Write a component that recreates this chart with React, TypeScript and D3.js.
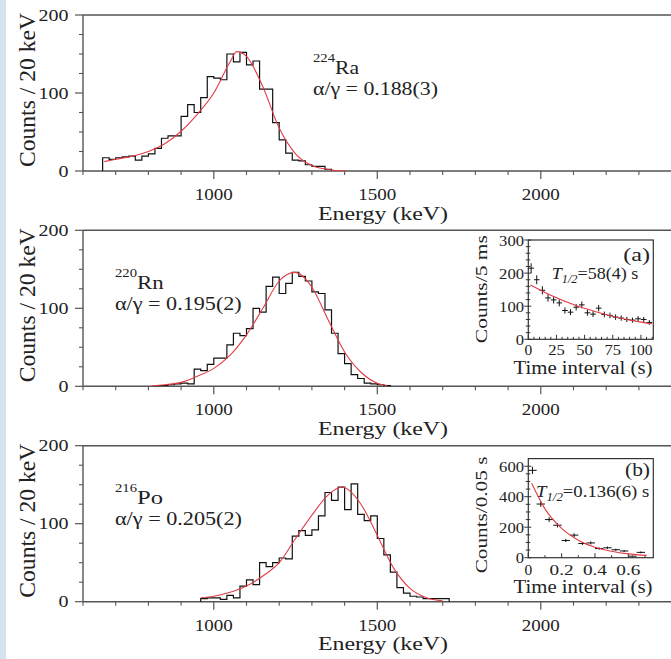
import React from "react";
import * as d3 from "d3";

const W = 671;
const H = 659;
const FONT = "Liberation Serif, Tinos, Times New Roman, Times, serif";
const RED = "#e23c44";
const AXIS = "#555";
const INK = "#222";

// ---------- main spectra (20 keV bins) ----------
const binWidthKeV = 20;
const raStartKeV = 660;
const raCounts = [17, 15, 17, 18, 19, 14, 19, 22, 29, 42, 45, 45, 70, 85, 75, 94, 121, 119, 117, 150, 140, 152, 136, 141, 105, 105, 62, 40, 23, 14, 13, 8, 6, 6, 2];
const rnStartKeV = 820;
const rnCounts = [1, 1, 2, 3, 4, 3, 22, 20, 28, 36, 36, 53, 68, 65, 74, 100, 95, 128, 140, 119, 132, 146, 141, 135, 121, 119, 98, 68, 42, 29, 15, 10, 4, 3, 2, 1];
const poStartKeV = 960;
const poCounts = [4, 5, 5, 3, 8, 5, 20, 28, 22, 50, 45, 50, 56, 55, 84, 91, 85, 92, 110, 140, 130, 147, 118, 151, 112, 104, 110, 81, 60, 38, 18, 11, 7, 6, 4, 4, 4, 4];

// fitted curves
const raFitE = [665, 700, 750, 800, 850, 900, 950, 1000, 1050, 1070, 1100, 1150, 1200, 1250, 1300, 1350, 1405];
const raFitC = [12, 15, 19, 25, 35, 51, 73, 100, 140, 153, 147, 108, 55, 22, 7, 2, 0];
const rnFitE = [810, 850, 900, 950, 1000, 1050, 1100, 1150, 1200, 1248, 1300, 1350, 1400, 1450, 1500, 1530];
const rnFitC = [0.5, 2, 5, 13, 23, 40, 66, 100, 135, 146, 127, 85, 44, 18, 4, 1];
const poFitE = [960, 1000, 1050, 1100, 1150, 1200, 1250, 1300, 1350, 1392, 1450, 1500, 1550, 1600, 1650, 1700];
const poFitC = [5, 7, 12, 20, 33, 50, 81, 111, 137, 147, 125, 85, 43, 17, 5, 1];

const nuclideMass = ["224", "220", "216"];
const nuclideSymbol = ["Ra", "Rn", "Po"];
const ratioLabels = ["\u03b1/\u03b3 = 0.188(3)", "\u03b1/\u03b3 = 0.195(2)", "\u03b1/\u03b3 = 0.205(2)"];

const energyTickLabels = [1000, 1500, 2000];
const countTickLabels = [0, 100, 200];

// ---------- insets ----------
const insetATime = [2.5, 7.5, 12.5, 17.5, 22.5, 27.5, 32.5, 37.5, 42.5, 47.5, 52.5, 57.5, 62.5, 67.5, 72.5, 77.5, 82.5, 87.5, 92.5, 97.5, 102.5, 107.5];
const insetACounts = [215, 180, 148, 125, 119, 110, 87, 82, 97, 104, 80, 76, 94, 75, 72, 67, 64, 60, 58, 62, 60, 51];
const insetAFitT = [2, 20, 40, 60, 80, 100, 110];
const insetAFitC = [164, 133, 105, 83, 65, 52, 47];
const insetAXTicks = [0, 25, 50, 75, 100];
const insetAYTicks = [0, 100, 200, 300];

const insetBTime = [0.025, 0.075, 0.125, 0.175, 0.225, 0.275, 0.325, 0.375, 0.425, 0.475, 0.525, 0.575, 0.625, 0.675];
const insetBCounts = [573, 352, 250, 213, 113, 148, 93, 97, 60, 65, 52, 44, 10, 35];
const insetBFitT = [0.02, 0.1, 0.2, 0.3, 0.4, 0.5, 0.6, 0.71];
const insetBFitC = [488, 320, 192, 115, 68, 42, 25, 15];
const insetBXTicks = [0, 0.2, 0.4, 0.6];
const insetBYTicks = [0, 200, 400, 600];

// ---------- geometry ----------
const PL = 83;
const PR = 671.6;
const PANEL_H = 156;
const panelTops = [15, 230.3, 445.7];
const annX = [313, 115, 115];
const symW = [24, 26.7, 26];
const ratioW = [125, 126.7, 127];

const xE = d3.scaleLinear().domain([600, 2400]).range([PL, PR]);

function histPath(start: number, counts: number[], y: d3.ScaleLinear<number, number>) {
  const pts: [number, number][] = [[start, 0]];
  counts.forEach((c, i) => {
    pts.push([start + i * binWidthKeV, c]);
    pts.push([start + (i + 1) * binWidthKeV, c]);
  });
  pts.push([start + counts.length * binWidthKeV, 0]);
  return d3.line<[number, number]>().x((d) => xE(d[0])).y((d) => y(d[1]))(pts) || "";
}

function fitPath(es: number[], cs: number[], x: any, y: any) {
  const pts = es.map((e, i) => [e, cs[i]] as [number, number]);
  return d3.line<[number, number]>().curve(d3.curveMonotoneX).x((d) => x(d[0])).y((d) => y(d[1]))(pts) || "";
}

const T = (props: any) => <text fontFamily={FONT} fill={INK} lengthAdjust="spacingAndGlyphs" {...props} />;

function Panel({ i, start, counts, fitE, fitC }: any) {
  const top = panelTops[i];
  const bottom = top + PANEL_H;
  const y = d3.scaleLinear().domain([0, 200]).range([bottom, top]);
  const minorX = d3.range(600, 2401, 100).filter((v) => !energyTickLabels.includes(v));
  const minorY = d3.range(0, 201, 25).filter((v) => !countTickLabels.includes(v));
  return (
    <g>
      <line x1={PL} x2={PR + 2} y1={top} y2={top} stroke={AXIS} strokeWidth={1.4} />
      <line x1={PL} x2={PR + 2} y1={bottom} y2={bottom} stroke={AXIS} strokeWidth={1.4} />
      <line x1={PL} x2={PL} y1={top} y2={bottom} stroke={AXIS} strokeWidth={1.4} />
      {minorX.map((v) => (
        <line key={"mx" + v} x1={xE(v)} x2={xE(v)} y1={bottom} y2={bottom + 4} stroke={AXIS} strokeWidth={1.1} />
      ))}
      {energyTickLabels.map((v) => (
        <g key={"x" + v}>
          <line x1={xE(v)} x2={xE(v)} y1={bottom} y2={bottom + 8} stroke={AXIS} strokeWidth={1.2} />
          <T x={xE(v)} y={bottom + 29} textAnchor="middle" fontSize={16.5} textLength={38}>
            {v}
          </T>
        </g>
      ))}
      {minorY.map((v) => (
        <line key={"my" + v} x1={PL - 4} x2={PL} y1={y(v)} y2={y(v)} stroke={AXIS} strokeWidth={1.1} />
      ))}
      {countTickLabels.map((v) => (
        <g key={"y" + v}>
          <line x1={PL - 8} x2={PL} y1={y(v)} y2={y(v)} stroke={AXIS} strokeWidth={1.2} />
          <T x={68.5} y={y(v) + 5.5} textAnchor="end" fontSize={16.5} textLength={String(v).length * 10}>
            {v}
          </T>
        </g>
      ))}
      <T x={383} y={bottom + 48.5} textAnchor="middle" fontSize={19.5} textLength={130}>
        Energy (keV)
      </T>
      <T transform={`translate(35,${(top + bottom) / 2 - 3}) rotate(-90)`} textAnchor="middle" fontSize={23} textLength={154}>
        Counts / 20 keV
      </T>
      <path d={histPath(start, counts, y)} fill="none" stroke="#111" strokeWidth={1.2} />
      <path d={fitPath(fitE, fitC, xE, y)} fill="none" stroke={RED} strokeWidth={1.1} />
      <T x={annX[i]} y={top + 46.7} fontSize={12.5} textLength={22}>
        {nuclideMass[i]}
      </T>
      <T x={annX[i] + 22} y={top + 58.5} fontSize={18} textLength={symW[i]}>
        {nuclideSymbol[i]}
      </T>
      <T x={annX[i]} y={top + 79.5} fontSize={18.5} textLength={ratioW[i]}>
        {ratioLabels[i]}
      </T>
    </g>
  );
}

function Inset({ cfg }: any) {
  const { x0, x1, yTop, yBot, xDom, yDom, times, counts, halfBin, fitT, fitC, xTicks, yTicks, xMinor, yMinor, yLabelDy, yLabel, yLabelLen, tag, tagX, tagBase, tagW, halfTxt, halfX, halfBase, halfW, xTickBase, xTickW, xLabelBase } = cfg;
  const x = d3.scaleLinear().domain(xDom).range([x0, x1]);
  const y = d3.scaleLinear().domain(yDom).range([yBot, yTop]);
  const y0 = y(0);
  return (
    <g>
      <rect x={x0} y={yTop} width={x1 - x0} height={yBot - yTop} fill="#fff" stroke="#333" strokeWidth={1.2} />
      {xMinor.map((v: number) => (
        <line key={"xm" + v} x1={x(v)} x2={x(v)} y1={y0} y2={y0 - 2.5} stroke="#333" strokeWidth={1} />
      ))}
      {xTicks.map((v: number, k: number) => (
        <g key={"xt" + v}>
          <line x1={x(v)} x2={x(v)} y1={y0} y2={y0 - 4.5} stroke="#333" strokeWidth={1} />
          <T x={x(v)} y={xTickBase} textAnchor="middle" fontSize={14.5} textLength={xTickW[k]}>
            {String(v)}
          </T>
        </g>
      ))}
      {yMinor.map((v: number) => (
        <line key={"ym" + v} x1={x0 - 2.5} x2={x0 + 2} y1={y(v)} y2={y(v)} stroke="#333" strokeWidth={1} />
      ))}
      {yTicks.map((v: number) => (
        <g key={"yt" + v}>
          <line x1={x0 - 4} x2={x0 + 3} y1={y(v)} y2={y(v)} stroke="#333" strokeWidth={1} />
          <T x={524} y={y(v) + 5.5} textAnchor="end" fontSize={15.5} textLength={String(v).length * 8.3}>
            {v}
          </T>
        </g>
      ))}
      {times.map((t: number, k: number) => {
        const c = counts[k];
        const e = Math.sqrt(c);
        return (
          <g key={"p" + k} stroke="#111" strokeWidth={1}>
            <line x1={x(t - halfBin)} x2={x(t + halfBin)} y1={y(c)} y2={y(c)} />
            <line x1={x(t)} x2={x(t)} y1={y(Math.max(0, c - e))} y2={y(c + e)} />
          </g>
        );
      })}
      <path d={fitPath(fitT, fitC, x, y)} fill="none" stroke={RED} strokeWidth={1.1} />
      <T x={tagX} y={tagBase} fontSize={18.5} textLength={tagW}>
        {tag}
      </T>
      <T x={halfX} y={halfBase} fontSize={17.5} textLength={halfW}>
        <tspan fontStyle="italic">T</tspan>
        <tspan fontStyle="italic" fontSize={12} dy={4}>1/2</tspan>
        <tspan dy={-4}>{halfTxt}</tspan>
      </T>
      <T x={583} y={xLabelBase} textAnchor="middle" fontSize={18.5} textLength={139}>
        Time interval (s)
      </T>
      <T transform={`translate(486.5,${(yTop + yBot) / 2 + yLabelDy}) rotate(-90)`} textAnchor="middle" fontSize={17} textLength={yLabelLen}>
        {yLabel}
      </T>
    </g>
  );
}

const insetA = {
  x0: 528.3, x1: 653.3, yTop: 240, yBot: 339.3, xDom: [0, 111], yDom: [0, 300],
  times: insetATime, counts: insetACounts, halfBin: 2.5, fitT: insetAFitT, fitC: insetAFitC,
  xTicks: insetAXTicks, yTicks: insetAYTicks, xMinor: d3.range(5, 111, 5).filter((v) => v % 25 !== 0),
  yMinor: d3.range(20, 300, 20).filter((v) => v % 100 !== 0), yLabelDy: -0.5,
  yLabel: "Counts/5 ms", yLabelLen: 108, tag: "(a)", tagX: 623.3, tagBase: 260.5, tagW: 26.7,
  halfTxt: "=58(4) s", halfX: 551.7, halfBase: 279, halfW: 86.7, xTickBase: 355, xTickW: [7.7, 16.6, 16.6, 16.6, 23.3], xLabelBase: 374,
};
const insetB = {
  x0: 528.3, x1: 653.3, yTop: 458.6, yBot: 557.7, xDom: [0, 0.75], yDom: [0, 650],
  times: insetBTime, counts: insetBCounts, halfBin: 0.025, fitT: insetBFitT, fitC: insetBFitC,
  xTicks: insetBXTicks, yTicks: insetBYTicks, xMinor: [0.1, 0.3, 0.5, 0.7],
  yMinor: d3.range(50, 650, 50).filter((v) => v % 200 !== 0), yLabelDy: 6.8,
  yLabel: "Counts/0.05 s", yLabelLen: 116.7, tag: "(b)", tagX: 625, tagBase: 475.8, tagW: 25,
  halfTxt: "=0.136(6) s", halfX: 536, halfBase: 497.2, halfW: 113.3, xTickBase: 574.5, xTickW: [7.7, 24, 24, 24], xLabelBase: 593,
};

export default function App() {
  return (
    <svg
      width={W}
      height={H}
      viewBox={`0 0 ${W} ${H}`}
      fontFamily={FONT}
      style={{ position: "absolute", left: 0, top: 0, background: "#fff" }}
    >
      <rect x={0} y={0} width={W} height={H} fill="#fff" />
      <rect x={0} y={0} width={6} height={H} fill="#d5e3ec" />
      <Panel i={0} start={raStartKeV} counts={raCounts} fitE={raFitE} fitC={raFitC} />
      <Panel i={1} start={rnStartKeV} counts={rnCounts} fitE={rnFitE} fitC={rnFitC} />
      <Panel i={2} start={poStartKeV} counts={poCounts} fitE={poFitE} fitC={poFitC} />
      <Inset cfg={insetA} />
      <Inset cfg={insetB} />
    </svg>
  );
}
